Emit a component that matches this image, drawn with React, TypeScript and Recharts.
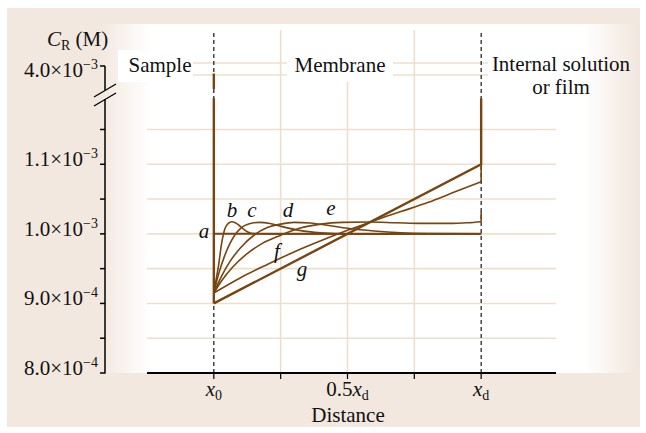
import React from 'react';
import { LineChart, Line, XAxis, YAxis, CartesianGrid, ReferenceLine } from 'recharts';

// ---------- data (distance as a fraction of x_d, concentration in units of 1e-4 M) ----------
const E4 = 1e-4;

const DIST_A = [0, 1];
const CONC_A = [10.0, 10.0];

const DIST_B = [0, 0.008, 0.017, 0.029, 0.042, 0.054, 0.067, 0.08, 0.095, 0.11, 0.125, 0.145, 0.2, 1.0];
const CONC_B = [9.15, 9.33, 9.53, 9.86, 10.08, 10.15, 10.175, 10.16, 10.12, 10.07, 10.03, 10.005, 10.0, 10.0];

const DIST_C = [0, 0.02, 0.04, 0.06, 0.08, 0.1, 0.13, 0.17, 0.21, 0.26, 0.32, 0.4, 0.5, 1.0];
const CONC_C = [9.15, 9.45, 9.68, 9.86, 9.99, 10.08, 10.14, 10.165, 10.15, 10.1, 10.05, 10.015, 10.0, 10.0];

const DIST_D = [0, 0.03, 0.06, 0.1, 0.15, 0.2, 0.25, 0.3, 0.36, 0.43, 0.5, 0.6, 0.7, 0.8, 1.0];
const CONC_D = [9.15, 9.4, 9.6, 9.8, 9.98, 10.09, 10.14, 10.165, 10.155, 10.12, 10.08, 10.04, 10.015, 10.005, 10.0];

const DIST_E = [0, 0.03, 0.07, 0.12, 0.18, 0.25, 0.32, 0.4, 0.48, 0.58, 0.68, 0.78, 0.88, 0.95, 1.0];
const CONC_E = [9.15, 9.33, 9.52, 9.7, 9.86, 9.98, 10.08, 10.14, 10.165, 10.17, 10.16, 10.15, 10.15, 10.16, 10.175];
const DIST_E_STEP = [1, 1];
const CONC_E_STEP = [10.175, 10.32];

const DIST_F = [0, 0.1, 0.2, 0.3, 0.4, 0.5, 0.6, 0.7, 0.8, 0.9, 1.0];
const CONC_F = [9.15, 9.37, 9.56, 9.74, 9.9, 10.05, 10.19, 10.32, 10.45, 10.6, 10.75];
const DIST_F_STEP = [1, 1];
const CONC_F_STEP = [10.75, 11.0];

// broken axis: lower segment ends at BREAK_BELOW, upper segment starts at BREAK_ABOVE
const BREAK_BELOW = 1.195e-3;
const BREAK_SHIFT = 2.7587e-3;
const BREAK_ABOVE = 3.9669e-3;
const SPIKE_TOP = 3.9892e-3;

const DIST_G = [0, 1, 1];
const CONC_G = [9.0 * E4, 11.0 * E4, BREAK_BELOW];

const DIST_SPIKE = [0, 0, 0, 0, 0];
const CONC_SPIKE: (number | null)[] = [9.0 * E4, BREAK_BELOW, null, BREAK_ABOVE, SPIKE_TOP];

const X_TICKS = [0, 0.25, 0.5, 0.75, 1];
const X_TICK_MAIN = ['', '', '0.5', '', ''];
const X_TICK_VAR = ['x', '', 'x', '', 'x'];
const X_TICK_SUB = ['0', '', 'd', '', 'd'];

const Y_TICKS_REAL = [8e-4, 8.5e-4, 9e-4, 9.5e-4, 1e-3, 1.05e-3, 1.1e-3, 1.15e-3, 4.0e-3];
const Y_TICK_MANTISSA = ['8.0', '', '9.0', '', '1.0', '', '1.1', '', '4.0'];
const Y_TICK_EXP = ['−4', '', '−4', '', '−3', '', '−3', '', '−3'];

const GRID_Y_REAL = [8.5e-4, 9e-4, 9.5e-4, 1e-3, 1.05e-3, 1.1e-3, 1.15e-3, 3.9871e-3, 4.0043e-3];
const GRID_X = [0.25, 0.5, 0.75];

// ---------- helpers ----------
const axisValue = (v: number | null) => (v == null ? null : v > BREAK_BELOW ? v - BREAK_SHIFT : v);
const rows = (xs: number[], ys: (number | null)[], scale = 1) =>
  xs.map((x, i) => ({ x, y: ys[i] == null ? null : axisValue((ys[i] as number) * scale) }));

const Y_DOMAIN: [number, number] = [8e-4, 1.293e-3];
const X_DOMAIN: [number, number] = [-0.25, 1.28];
const Y_TICKS = Y_TICKS_REAL.map((v) => axisValue(v) as number);
const GRID_Y = GRID_Y_REAL.map((v) => axisValue(v) as number);

const FONT = "'Liberation Serif', 'Times New Roman', serif";
const BROWN = '#774511';
const GRID = '#eedfcd';
const BEIGE = '#f2e8df';
const AXIS_GAP = 42; // the y axis stands this far left of the plotting area

const seriesA = rows(DIST_A, CONC_A, E4);
const seriesB = rows(DIST_B, CONC_B, E4);
const seriesC = rows(DIST_C, CONC_C, E4);
const seriesD = rows(DIST_D, CONC_D, E4);
const seriesE = rows(DIST_E, CONC_E, E4);
const seriesEStep = rows(DIST_E_STEP, CONC_E_STEP, E4);
const seriesF = rows(DIST_F, CONC_F, E4);
const seriesFStep = rows(DIST_F_STEP, CONC_F_STEP, E4);
const seriesG = rows(DIST_G, CONC_G);
const seriesSpike = rows(DIST_SPIKE, CONC_SPIKE);

const YTick = (props: any) => {
  const { x, y, index } = props;
  const ax = x - AXIS_GAP;
  const m = Y_TICK_MANTISSA[index];
  const dy = index === Y_TICKS.length - 1 ? 11 : 2;
  return (
    <g>
      <line x1={ax - 5} y1={y} x2={ax} y2={y} stroke="#000" strokeWidth={1.5} />
      {m ? (
        <text x={ax - 7} y={y + dy} textAnchor="end" fontFamily={FONT} fontSize={21} fill="#111">
          {m}×10
          <tspan fontSize={14} dy={-8}>
            {Y_TICK_EXP[index]}
          </tspan>
        </text>
      ) : null}
    </g>
  );
};

const XTick = (props: any) => {
  const { x, y, index } = props;
  if (!X_TICK_VAR[index]) return null;
  return (
    <text x={x} y={y + 15} textAnchor="middle" fontFamily={FONT} fontSize={21} fill="#111">
      {X_TICK_MAIN[index]}
      <tspan fontStyle="italic">{X_TICK_VAR[index]}</tspan>
      <tspan fontSize={14} dy={4}>
        {X_TICK_SUB[index]}
      </tspan>
    </text>
  );
};

const lineProps = {
  xAxisId: 0,
  yAxisId: 0,
  dataKey: 'y',
  stroke: BROWN,
  dot: false,
  activeDot: false,
  isAnimationActive: false,
  legendType: 'none' as const,
};

export default function App() {
  const txt = { fontFamily: FONT, fontSize: 21, fill: '#111' };
  return (
    <div style={{ position: 'absolute', left: 0, top: 0, width: 646, height: 433, background: '#fff' }}>
      <div style={{ position: 'absolute', left: 7, top: 8, width: 633, height: 419, background: BEIGE }} />
      <div
        style={{
          position: 'absolute',
          left: 100,
          top: 24,
          width: 540,
          height: 349,
          background: `linear-gradient(to right, ${BEIGE} 0px, #ffffff 50px, #ffffff 485px, ${BEIGE} 535px)`,
        }}
      />
      <div style={{ position: 'absolute', left: 0, top: 0 }}>
        <LineChart width={646} height={433} margin={{ top: 30, right: 90, bottom: 20, left: 5 }}>
          <CartesianGrid
            xAxisId={0}
            yAxisId={0}
            horizontalValues={GRID_Y}
            verticalValues={GRID_X}
            stroke={GRID}
            strokeWidth={1.6}
          />
          <XAxis
            xAxisId={0}
            dataKey="x"
            type="number"
            domain={X_DOMAIN}
            ticks={X_TICKS}
            interval={0}
            allowDataOverflow
            height={40}
            tickSize={6}
            axisLine={{ stroke: '#000', strokeWidth: 2 }}
            tickLine={{ stroke: '#000', strokeWidth: 1.2 }}
            tick={<XTick />}
          />
          <YAxis
            yAxisId={0}
            width={142}
            type="number"
            domain={Y_DOMAIN}
            ticks={Y_TICKS}
            interval={0}
            allowDataOverflow
            axisLine={false}
            tickLine={false}
            tickSize={0}
            tickMargin={0}
            tick={<YTick />}
          />
          <ReferenceLine xAxisId={0} yAxisId={0} x={0} stroke="#000" strokeWidth={1.1} strokeDasharray="4 3" />
          <ReferenceLine xAxisId={0} yAxisId={0} x={1} stroke="#000" strokeWidth={1.1} strokeDasharray="4 3" />
          <Line {...lineProps} data={seriesA} type="linear" strokeWidth={2} />
          <Line {...lineProps} data={seriesB} type="monotone" strokeWidth={1.6} />
          <Line {...lineProps} data={seriesC} type="monotone" strokeWidth={1.6} />
          <Line {...lineProps} data={seriesD} type="monotone" strokeWidth={1.6} />
          <Line {...lineProps} data={seriesE} type="monotone" strokeWidth={1.6} />
          <Line {...lineProps} data={seriesEStep} type="linear" strokeWidth={1.6} />
          <Line {...lineProps} data={seriesF} type="monotone" strokeWidth={1.6} />
          <Line {...lineProps} data={seriesFStep} type="linear" strokeWidth={1.6} />
          <Line {...lineProps} data={seriesG} type="linear" strokeWidth={2.4} />
          <Line {...lineProps} data={seriesSpike} type="linear" strokeWidth={2.4} connectNulls={false} />
        </LineChart>
      </div>
      <svg width={646} height={433} style={{ position: 'absolute', left: 0, top: 0, pointerEvents: 'none' }}>
        {/* broken y axis line */}
        <line x1={105} y1={66} x2={105} y2={90} stroke="#000" strokeWidth={1.5} />
        <line x1={105} y1={99} x2={105} y2={373.5} stroke="#000" strokeWidth={1.5} />
        <line x1={94} y1={97} x2={116} y2={84} stroke="#000" strokeWidth={1.3} />
        <line x1={94} y1={106} x2={116} y2={93} stroke="#000" strokeWidth={1.3} />
        {/* label boxes hide the grid below the region titles */}
        <rect x={118} y={50} width={75} height={32} fill="#fff" />
        <rect x={287} y={30} width={106} height={52} fill="#fff" />
        <rect x={488} y={50} width={70} height={50} fill="#fff" />
        <text {...txt} x={160} y={72} textAnchor="middle">Sample</text>
        <text {...txt} x={340} y={72} textAnchor="middle">Membrane</text>
        <text {...txt} x={561} y={71} textAnchor="middle">Internal solution</text>
        <text {...txt} x={561} y={94} textAnchor="middle">or film</text>
        <text {...txt} x={47} y={46}>
          <tspan fontStyle="italic">C</tspan>
          <tspan fontSize={14} dy={4}>R</tspan>
          <tspan dy={-4}> (M)</tspan>
        </text>
        <text {...txt} x={348} y={422} textAnchor="middle">Distance</text>
        <g fontStyle="italic">
          <text {...txt} x={204} y={238} textAnchor="middle">a</text>
          <text {...txt} x={232} y={217} textAnchor="middle">b</text>
          <text {...txt} x={252} y={217} textAnchor="middle">c</text>
          <text {...txt} x={288} y={217} textAnchor="middle">d</text>
          <text {...txt} x={331} y={215} textAnchor="middle">e</text>
          <text {...txt} x={277} y={258} textAnchor="middle">f</text>
          <text {...txt} x={302} y={276} textAnchor="middle">g</text>
        </g>
      </svg>
    </div>
  );
}
